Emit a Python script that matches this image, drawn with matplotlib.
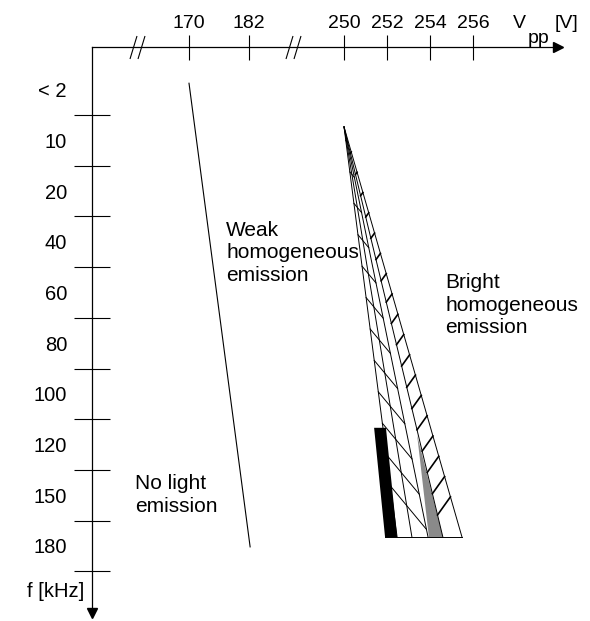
import numpy as np
import matplotlib
matplotlib.use("Agg")
import matplotlib.pyplot as plt
from matplotlib.path import Path
from matplotlib.ticker import NullLocator

plt.rcParams['font.family'] = ['Liberation Sans', 'DejaVu Sans']

# top axis: V_pp in volts (broken twice)
v_ticks = [170, 182, 250, 252, 254, 256]
v_breaks = [159.6, 213.5]

# left axis: frequency bands in kHz, top to bottom
f_bands = ['< 2', '10', '20', '40', '60', '80', '100', '120', '150', '180']

# threshold between no light and weak emission (V, band position)
weak_v = [170.0, 182.8]
weak_f = [-0.13, 9.02]

# bright emission fan: common apex, each edge ends at the 180 kHz level
apex_v, apex_f = 250.0, 0.73
end_f = 8.83
fan_v = [252.47, 253.16, 253.91, 254.60, 255.49]

# black bar and grey wedge
black_v = [251.40, 251.95, 252.47, 251.91]
black_f = [6.67, 6.67, 8.83, 8.83]
grey_v = [253.40, 254.60, 253.95]
grey_f = [6.81, 8.83, 8.83]

PX = 72 / 100  # points per pixel

# broken voltage axis, piecewise linear
knot_v = [100.0, 150.6, 170.0, 182.0, 250.0, 256.0, 260.14, 300.0]
knot_p = [-161.0, 92.0, 189.0, 249.0, 344.0, 473.0, 562.0, 1419.0]


def fwd(v):
    return np.interp(v, knot_v, knot_p)


def inv(p):
    return np.interp(p, knot_p, knot_v)


fig = plt.figure(figsize=(5.9, 6.21), dpi=100)
ax = fig.add_axes([92 / 590, 8.5 / 621, 465.5 / 590, 565.5 / 621])
ax.set_xscale('function', functions=(fwd, inv))
ax.set_xlim(150.6, 259.93)
ax.set_ylim(10.315, -0.845)

for s in ['right', 'bottom']:
    ax.spines[s].set_visible(False)
for s in ['top', 'left']:
    ax.spines[s].set_linewidth(0.9)

ax.xaxis.tick_top()
ax.set_xticks(v_ticks)
ax.set_xticklabels([str(v) for v in v_ticks])
ax.xaxis.set_minor_locator(NullLocator())
ax.tick_params(axis='x', direction='inout', length=25 * PX, width=0.8,
               pad=2.5 * PX, labelsize=14)

pos = np.arange(len(f_bands))
ax.set_yticks(pos + 0.5)
ax.set_yticks(pos, labels=f_bands, minor=True)
ax.tick_params(axis='y', which='major', direction='inout', length=36 * PX,
               width=0.8, labelleft=False)
ax.tick_params(axis='y', which='minor', length=0, pad=25 * PX, labelsize=14.5)

# arrow heads and axis breaks
ax.plot([1], [1], marker='>', ms=10 * PX, color='k', transform=ax.transAxes, clip_on=False)
ax.plot([0], [0], marker='v', ms=10 * PX, color='k', transform=ax.transAxes, clip_on=False)
slash = Path([(-7.5, -11.5), (-0.5, 11.5), (0.5, -11.5), (7.5, 11.5)],
             [Path.MOVETO, Path.LINETO, Path.MOVETO, Path.LINETO])
ax.plot(v_breaks, [1, 1], ls='none', marker=slash, ms=23 * PX, mec='k', mfc='none',
        mew=0.8, transform=ax.get_xaxis_transform(), clip_on=False)

# threshold line
ax.plot(weak_v, weak_f, color='k', lw=0.8)

# fan
for v in fan_v:
    ax.plot([apex_v, v], [apex_f, end_f], color='k', lw=0.7)
ax.plot([black_v[3], fan_v[-1]], [end_f, end_f], color='k', lw=0.7)
ax.fill(black_v, black_f, color='k', lw=0)
ax.fill(grey_v, grey_f, color='#8a8a8a', lw=0)


def edge(v_end, f):
    return apex_v + (v_end - apex_v) * (f - apex_f) / (end_f - apex_f)


k45 = 21.5 / 50.67
# '/' strokes in the right strip
for f in np.arange(1.25, 8.75, 0.42):
    a = edge(fan_v[3], f)
    f2 = f - (edge(fan_v[4], f) - a) * k45
    ax.plot([a, edge(fan_v[4], f2)], [f, f2], color='k', lw=1.2)
# '\' strokes in the left strip
for f in np.arange(1.0, 8.6, 0.62):
    a = edge(fan_v[0], f)
    f2 = f + (edge(fan_v[2], f) - a) * 1.6 * k45
    if f2 < end_f:
        ax.plot([a, edge(fan_v[2], f2)], [f, f2], color='k', lw=0.7)

# region labels
ax.text(177.4, 3.773, 'Weak\nhomogeneous\nemission', fontsize=15, linespacing=1.25)
ax.text(159.2, 8.332, 'No light\nemission', fontsize=15, linespacing=1.3)
ax.text(254.70, 4.80, 'Bright\nhomogeneous\nemission', fontsize=15, linespacing=1.22)

# axis titles
ax.set_ylabel('f [kHz]', rotation=0, ha='right', va='center', fontsize=14.5)
ax.yaxis.set_label_coords(-0.0172, 0.0363)
ax.text(0.9044, 1.0336, 'V', transform=ax.transAxes, fontsize=14)
ax.text(0.9366, 1.0071, 'pp', transform=ax.transAxes, fontsize=14)
ax.text(0.9946, 1.0336, '[V]', transform=ax.transAxes, fontsize=14)

fig.savefig('out.png', dpi=100)
